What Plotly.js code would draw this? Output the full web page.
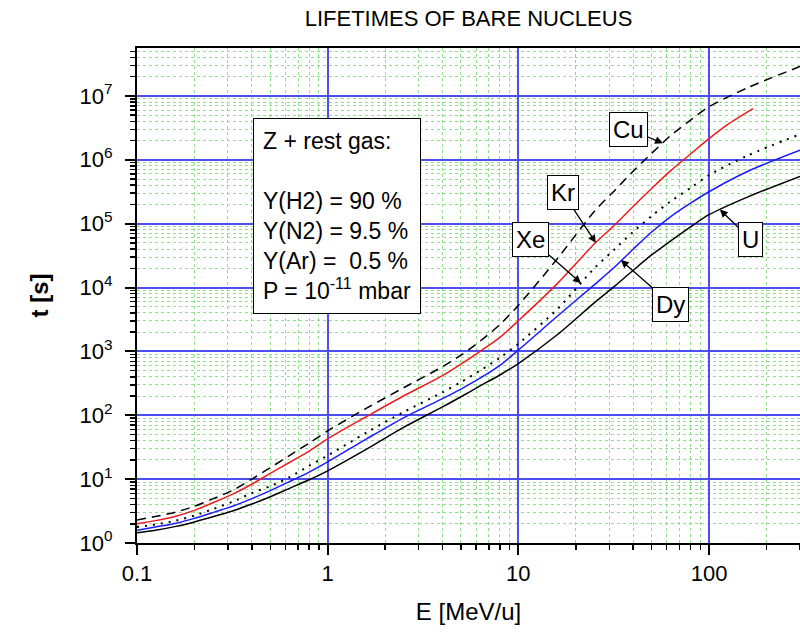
<!DOCTYPE html>
<html>
<head>
<meta charset="utf-8">
<script src="https://cdn.plot.ly/plotly-3.0.1.min.js"></script>
<style>html,body{margin:0;padding:0;background:#fff;}#chart{width:800px;height:634px;}</style>
</head>
<body>
<div id="chart"></div>
<script>
// Energy grid E [MeV/u]
var energy = [0.1, 0.125, 0.16, 0.2, 0.25, 0.32, 0.4, 0.5, 0.63, 0.8, 1, 1.6, 2.5, 4, 5, 6.3, 8, 10, 16, 25, 32, 40, 50, 63, 80, 100, 160, 300];
var energyKr = [0.1, 0.125, 0.16, 0.2, 0.25, 0.32, 0.4, 0.5, 0.63, 0.8, 1, 1.6, 2.5, 4, 5, 6.3, 8, 10, 16, 25, 32, 40, 50, 63, 80, 100, 125, 170];

// Lifetimes t [s]
var tCu = [2.29, 2.60, 3.05, 3.76, 4.90, 6.76, 10.0, 15.1, 23.4, 36.7, 56.9, 129, 269, 575, 871, 1445, 2630, 5250, 28200, 155000, 331000, 661000, 1.26e6, 2.40e6, 4.17e6, 6.76e6, 1.35e7, 2.88e7];
var tKr = [2.0, 2.24, 2.63, 3.24, 4.27, 5.89, 8.32, 12.3, 18.2, 27.5, 42.7, 95.5, 200, 417, 631, 1000, 1660, 3020, 11500, 47900, 95500, 186000, 355000, 676000, 1.23e6, 2.14e6, 3.55e6, 6.31e6];
var tXe = [1.78, 1.95, 2.24, 2.69, 3.39, 4.47, 6.03, 7.76, 10.7, 16.2, 23.4, 53.7, 112, 229, 331, 501, 794, 1318, 4570, 19950, 39800, 74100, 132000, 224000, 363000, 575000, 1.17e6, 2.51e6];
var tDy = [1.58, 1.78, 2.04, 2.43, 2.99, 3.80, 4.95, 6.61, 9.12, 12.9, 18.6, 42.7, 91.2, 182, 257, 380, 603, 1047, 3550, 11000, 20900, 39800, 74100, 129000, 209000, 316000, 661000, 1.41e6];
var tU  = [1.45, 1.58, 1.82, 2.14, 2.57, 3.20, 4.07, 5.31, 7.16, 9.77, 13.5, 29.5, 64.6, 135, 195, 288, 427, 646, 1820, 5750, 10500, 18600, 32400, 53700, 89100, 138000, 263000, 550000];

// Tick labels
var xTickVals = [0.1, 1, 10, 100];
var xTickText = ['0.1', '1', '10', '100'];
var yTickVals = [1, 10, 100, 1000, 1e4, 1e5, 1e6, 1e7];
var yTickText = ['10<sup>0</sup>', '10<sup>1</sup>', '10<sup>2</sup>', '10<sup>3</sup>', '10<sup>4</sup>', '10<sup>5</sup>', '10<sup>6</sup>', '10<sup>7</sup>'];

// Label annotations: ion name, E at arrow tip, t at arrow tip
var ionLabels = ['Cu', 'Kr', 'Xe', 'Dy', 'U'];
var labelE = [57.3, 25.5, 21.3, 34.5, 114];
var labelT = [1.82e6, 50100, 11700, 26900, 166000];
var labelAx = [-34, -33, -50, 50, 31];
var labelAy = [-14, -50, -44, 44, 30];

var infoText = 'Z + rest gas:<br> <br>Y(H2) = 90 %<br>Y(N2) = 9.5 %<br>Y(Ar) = \u00a00.5 %<br>P = 10<sup>-11</sup> mbar';

var FONT = 'Arial, "Liberation Sans", sans-serif';

// minor (2..9) positions inside each decade, excluding the decades themselves
function minorVals(d0, d1) {
  var out = [];
  for (var d = d0; d <= d1; d++) {
    for (var k = 2; k <= 9; k++) out.push(k * Math.pow(10, d));
  }
  return out;
}

var SPL = {shape: 'spline', smoothing: 0.8};
var traces = [
  {x: energy, y: tCu, mode: 'lines', name: 'Cu', line: Object.assign({color: '#000000', width: 1.5, dash: '9px,6px'}, SPL)},
  {x: energyKr, y: tKr, mode: 'lines', name: 'Kr', line: Object.assign({color: '#ee1c1c', width: 1.5}, SPL)},
  {x: energy, y: tXe, mode: 'lines', name: 'Xe', line: Object.assign({color: '#000000', width: 2, dash: '2px,6px'}, SPL)},
  {x: energy, y: tDy, mode: 'lines', name: 'Dy', line: Object.assign({color: '#1a1aff', width: 1.5}, SPL)},
  {x: energy, y: tU, mode: 'lines', name: 'U', line: Object.assign({color: '#000000', width: 1.5}, SPL)}
];

var annotations = [{
  xref: 'paper', yref: 'paper', x: 0.175, y: 0.8586, xanchor: 'left', yanchor: 'top',
  text: infoText, showarrow: false, align: 'left',
  font: {family: FONT, size: 23, color: '#000'},
  bgcolor: '#ffffff', bordercolor: '#000000', borderwidth: 1, borderpad: 9
}];
for (var i = 0; i < ionLabels.length; i++) {
  annotations.push({
    x: Math.log10(labelE[i]), y: Math.log10(labelT[i]), xref: 'x', yref: 'y',
    ax: labelAx[i], ay: labelAy[i], axref: 'pixel', ayref: 'pixel',
    text: ionLabels[i], showarrow: true, arrowhead: 2, arrowsize: 1.2, arrowwidth: 1.3, arrowcolor: '#000',
    font: {family: FONT, size: 24, color: '#000'},
    bgcolor: '#ffffff', bordercolor: '#000000', borderwidth: 1, borderpad: 3
  });
}

var minorStyle = function (vals) {
  return {tickmode: 'array', tickvals: vals, ticks: 'outside', ticklen: 5, tickwidth: 1.5, tickcolor: '#000',
          showgrid: true, gridcolor: '#8fe08a', griddash: 'dot', gridwidth: 1};
};

var layout = {
  width: 800, height: 634,
  margin: {l: 137, r: 0, t: 48, b: 91},
  paper_bgcolor: '#ffffff', plot_bgcolor: '#ffffff',
  showlegend: false,
  font: {family: FONT, color: '#000'},
  title: {text: 'LIFETIMES OF BARE NUCLEUS', font: {family: FONT, size: 22, color: '#000'},
          x: 0.5, xref: 'paper', xanchor: 'center', y: 0.971, yref: 'container', yanchor: 'middle'},
  xaxis: {
    type: 'log', range: [-1, Math.log10(300)],
    tickmode: 'array', tickvals: xTickVals, ticktext: xTickText,
    ticks: 'outside', ticklen: 10, tickwidth: 2, tickcolor: '#000',
    showline: true, linewidth: 2, linecolor: '#000', mirror: true,
    showgrid: true, gridcolor: '#4d4df0', gridwidth: 2,
    tickfont: {family: FONT, size: 22, color: '#000'},
    zeroline: false,
    minor: minorStyle(minorVals(-1, 2)),
    title: {text: 'E [MeV/u]', font: {family: FONT, size: 24, color: '#000'}, standoff: 18}
  },
  yaxis: {
    type: 'log', range: [0, 7.75],
    tickmode: 'array', tickvals: yTickVals, ticktext: yTickText,
    ticks: 'outside', ticklen: 10, tickwidth: 2, tickcolor: '#000',
    showline: true, linewidth: 2, linecolor: '#000', mirror: false,
    showgrid: true, gridcolor: '#4d4df0', gridwidth: 2,
    tickfont: {family: FONT, size: 22, color: '#000'},
    ticklabelstandoff: 8,
    zeroline: false,
    minor: minorStyle(minorVals(0, 7)),
    title: {text: '<b>t [s]</b>', font: {family: FONT, size: 24, color: '#000'}, standoff: 24}
  },
  annotations: annotations
};

Plotly.newPlot('chart', traces, layout, {displayModeBar: false, staticPlot: true});
</script>
</body>
</html>
